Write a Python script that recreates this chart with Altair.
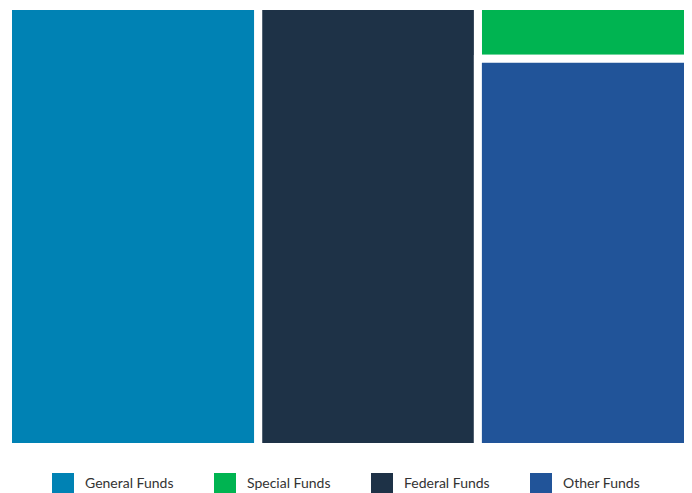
import altair as alt
import pandas as pd

funds = ["General Funds", "Special Funds", "Federal Funds", "Other Funds"]
values = [36.8, 3.7, 32.3, 27.2]
groups = [1, 3, 2, 3]
order_in_group = [1, 1, 1, 2]
colors = ["#0082B4", "#00B451", "#1E3247", "#215499"]

df = pd.DataFrame({"fund": funds, "value": values, "grp": groups, "ord": order_in_group})

chart = (
    alt.Chart(df)
    .transform_joinaggregate(gtotal="sum(value)", groupby=["grp"])
    .transform_window(cum_in="sum(value)", groupby=["grp"], sort=[alt.SortField("ord")],
                      frame=[None, 0])
    .transform_window(cum_all="sum(value)", sort=[alt.SortField("grp"), alt.SortField("ord")],
                      frame=[None, 0])
    .transform_calculate(
        x0="datum.cum_all - datum.cum_in",
        x1="datum.cum_all - datum.cum_in + datum.gtotal",
        y0="(datum.cum_in - datum.value) / datum.gtotal",
        y1="datum.cum_in / datum.gtotal",
    )
    .mark_rect(stroke="white", strokeWidth=8)
    .encode(
        x=alt.X("x0:Q", axis=None, scale=alt.Scale(domain=[0, 100], nice=False, zero=False)),
        x2="x1:Q",
        y=alt.Y("y0:Q", axis=None, scale=alt.Scale(domain=[0, 1], reverse=True, nice=False)),
        y2="y1:Q",
        color=alt.Color(
            "fund:N",
            scale=alt.Scale(domain=funds, range=colors),
            sort=funds,
            legend=alt.Legend(
                title=None,
                orient="none",
                direction="horizontal",
                legendX=44,
                legendY=467,
                symbolType="square",
                symbolSize=484,
                symbolStrokeWidth=0,
                symbolOpacity=1,
                labelFont="Lato",
                labelFontSize=14,
                labelColor="#333333",
                labelOffset=11,
                columnPadding=40,
            ),
        ),
    )
    .properties(
        width=680,
        height=441,
        padding={"left": 0, "top": -2, "right": -4, "bottom": 50},
        autosize=alt.AutoSizeParams(type="none"),
    )
    .configure_view(stroke=None)
)

chart.save("out.html", embed_options={"renderer": "svg", "actions": False})
